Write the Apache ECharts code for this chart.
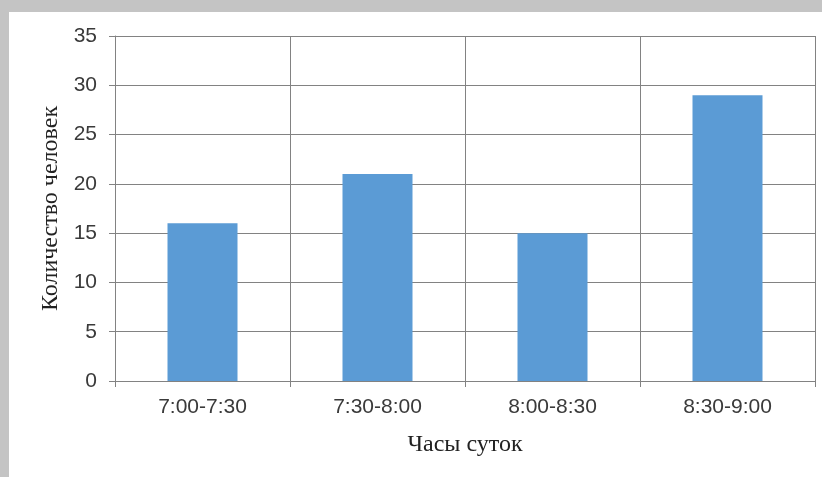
<!DOCTYPE html>
<html>
<head>
<meta charset="utf-8">
<script src="https://cdn.jsdelivr.net/npm/echarts@6/dist/echarts.min.js"></script>
<style>
  html, body { margin: 0; padding: 0; width: 822px; height: 477px; background: #c4c4c4; overflow: hidden; }
  #chart { position: absolute; left: 9px; top: 12px; width: 813px; height: 465px; background: #ffffff; }
</style>
</head>
<body>
<div id="chart"></div>
<script>
// Visitors per half-hour slot
const categories = ['7:00-7:30', '7:30-8:00', '8:00-8:30', '8:30-9:00'];
const people = [16, 21, 15, 29];
const yMin = 0;
const yMax = 35;
const yStep = 5;
const xTitle = 'Часы суток';
const yTitle = 'Количество человек';

const gridColor = '#828282';
const labelFont = { fontFamily: 'Liberation Sans', fontSize: 21, color: '#3a3a3a' };
const titleFont = { fontFamily: 'Liberation Serif', fontSize: 24, color: '#222222' };

const chart = echarts.init(document.getElementById('chart'), null, { renderer: 'canvas' });
chart.setOption({
  animation: false,
  backgroundColor: '#ffffff',
  grid: { left: 106, right: 7, top: 24, bottom: 96, containLabel: false },
  xAxis: {
    type: 'category',
    data: categories,
    boundaryGap: true,
    name: xTitle,
    nameLocation: 'middle',
    nameGap: 52,
    nameTextStyle: titleFont,
    axisLine: { show: true, lineStyle: { color: gridColor, width: 1 } },
    axisTick: { show: true, inside: false, length: 6, alignWithLabel: false, lineStyle: { color: gridColor } },
    axisLabel: Object.assign({ margin: 16 }, labelFont),
    splitLine: { show: true, showMinLine: true, showMaxLine: true, lineStyle: { color: gridColor, width: 1 } }
  },
  yAxis: {
    type: 'value',
    min: yMin,
    max: yMax,
    interval: yStep,
    name: yTitle,
    nameLocation: 'middle',
    nameRotate: 90,
    nameGap: 52,
    nameTextStyle: titleFont,
    axisLine: { show: true, lineStyle: { color: gridColor, width: 1 } },
    axisTick: { show: true, inside: false, length: 6, lineStyle: { color: gridColor } },
    axisLabel: Object.assign({ margin: 18 }, labelFont),
    splitLine: { show: true, lineStyle: { color: gridColor, width: 1 } }
  },
  series: [{
    type: 'bar',
    data: people,
    barCategoryGap: '60%',
    itemStyle: { color: '#5b9bd5' }
  }]
});
</script>
</body>
</html>
